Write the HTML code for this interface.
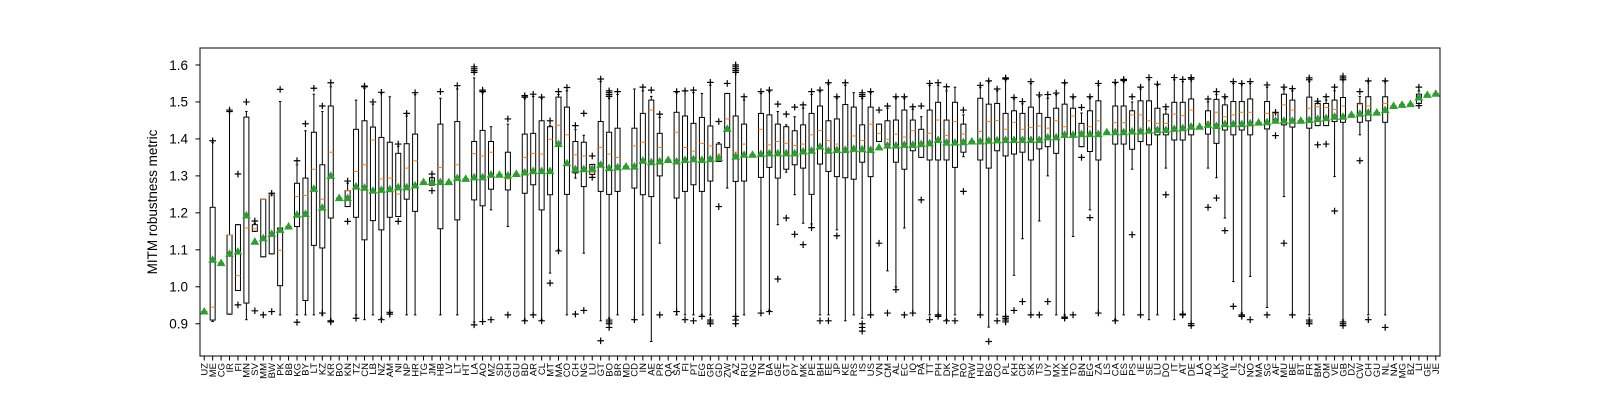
<!DOCTYPE html>
<html><head><meta charset="utf-8"><style>
html,body{margin:0;padding:0;background:#fff;}
svg{display:block;font-family:"Liberation Sans","DejaVu Sans",sans-serif;}
</style></head><body>
<svg id="chart" width="1600" height="400" viewBox="0 0 1600 400" xmlns="http://www.w3.org/2000/svg">
<rect x="0" y="0" width="1600" height="400" fill="#fff"/>
<g id="yaxis"></g>
<g id="marks"></g>
<g id="xaxis"></g>
<rect x="200" y="48" width="1240" height="308" fill="none" stroke="#000" stroke-width="1"/>
<text x="157" y="202" transform="rotate(-90 157 202)" text-anchor="middle" font-size="13.5" fill="#000">MITM robustness metric</text>
</svg>
<script>
const categories = ["UZ","ME","CG","IR","FI","MN","SV","MM","BW","PK","BB","KG","BY","LT","KZ","KR","BO","KN","TZ","CN","LB","NZ","AM","NI","NP","HR","TG","JM","HB","LV","LT","HT","LA","AO","MZ","SD","GH","GU","BD","AR","CL","MT","MA","CO","CH","NG","LU","GT","BO","BR","MD","CD","IN","AE","PR","QA","SA","FI","PT","EG","GR","GD","ZW","AZ","RU","NG","TN","BA","GE","GT","PY","MK","PE","BH","EE","JP","KE","RS","IS","US","VN","CM","AL","EC","IQ","PA","TT","PH","DK","TW","RO","RW","HU","BG","CO","PL","KH","CR","SK","TS","UY","MX","HK","TO","BN","EG","ZA","LS","CA","ES","PS","IE","SE","LU","DO","IT","AT","DE","LA","AO","LK","KW","IL","CZ","NO","MA","SG","AF","MU","BE","BT","FR","BM","OM","VE","GB","DZ","CW","CH","GU","NL","NA","MG","BZ","LI","GE","JE"];
const whisLo = [.933,.906,1.064,.926,.99,.911,1.15,1.081,1.089,.924,1.163,.924,.924,.924,.924,.91,1.24,1.217,.924,.911,.924,.915,.929,1.19,.924,.924,1.283,1.275,.924,1.283,.924,1.292,.905,.906,1.208,1.303,1.163,1.305,.91,.924,.91,1.037,1.1,.924,1.294,1.091,1.304,.908,.915,.924,1.325,.911,.924,.852,1.118,1.343,.924,.924,.924,.924,.924,1.339,1.267,.915,.924,1.357,.929,.936,1.168,1.31,1.249,1.172,1.17,.924,.924,1.154,.908,.924,.915,.924,1.393,1.043,1.0,1.159,.929,1.35,.924,.924,.911,.924,1.352,1.393,.924,.891,.924,.911,1.031,1.13,.924,1.178,1.3,.924,.924,1.136,1.379,1.208,.929,1.418,.911,.924,1.318,.924,.911,.924,1.321,.911,.924,.9,1.433,1.321,1.295,1.186,1.014,.929,1.028,1.444,.944,1.447,1.244,.924,1.449,.924,1.436,1.436,1.298,.91,1.465,1.411,.924,1.471,.924,1.489,1.492,1.494,1.496,1.519,1.522];
const q1 = [.933,.91,1.064,.926,.99,.956,1.15,1.081,1.089,1.003,1.163,1.163,.963,1.112,1.105,1.186,1.24,1.217,1.188,1.127,1.179,1.154,1.188,1.19,1.237,1.204,1.283,1.275,1.157,1.283,1.181,1.292,1.235,1.219,1.264,1.303,1.262,1.305,1.253,1.276,1.208,1.249,1.384,1.25,1.308,1.271,1.304,1.258,1.25,1.258,1.325,1.267,1.249,1.244,1.3,1.343,1.24,1.258,1.276,1.258,1.286,1.339,1.377,1.285,1.286,1.357,1.296,1.323,1.294,1.318,1.33,1.321,1.25,1.332,1.312,1.298,1.295,1.291,1.337,1.298,1.393,1.384,1.337,1.318,1.368,1.35,1.343,1.343,1.343,1.323,1.364,1.393,1.343,1.321,1.368,1.354,1.359,1.364,1.343,1.373,1.379,1.361,1.411,1.411,1.379,1.366,1.343,1.418,1.386,1.386,1.372,1.393,1.384,1.411,1.411,1.397,1.397,1.411,1.433,1.413,1.388,1.424,1.411,1.424,1.411,1.444,1.427,1.447,1.438,1.432,1.449,1.429,1.436,1.436,1.447,1.445,1.465,1.445,1.449,1.471,1.445,1.489,1.492,1.494,1.496,1.519,1.522];
const medians = [.933,.945,1.064,1.14,1.03,1.159,1.157,1.237,1.249,1.099,1.163,1.244,1.247,1.318,1.237,1.364,1.24,1.26,1.312,1.33,1.397,1.292,1.294,1.251,1.321,1.341,1.283,1.285,1.323,1.283,1.33,1.292,1.36,1.354,1.364,1.303,1.292,1.305,1.35,1.361,1.359,1.399,1.437,1.411,1.357,1.354,1.31,1.377,1.359,1.35,1.325,1.381,1.391,1.478,1.377,1.343,1.418,1.377,1.367,1.388,1.381,1.359,1.454,1.364,1.386,1.357,1.426,1.384,1.393,1.388,1.382,1.386,1.411,1.423,1.396,1.386,1.376,1.408,1.396,1.44,1.415,1.399,1.413,1.405,1.422,1.386,1.415,1.451,1.409,1.447,1.413,1.393,1.42,1.447,1.45,1.426,1.445,1.426,1.431,1.435,1.429,1.449,1.433,1.462,1.41,1.433,1.449,1.418,1.444,1.444,1.465,1.465,1.449,1.442,1.442,1.467,1.463,1.478,1.433,1.447,1.472,1.46,1.465,1.472,1.472,1.444,1.469,1.469,1.492,1.478,1.449,1.483,1.487,1.485,1.48,1.489,1.465,1.494,1.489,1.471,1.496,1.489,1.492,1.494,1.505,1.519,1.522];
const q3 = [.933,1.215,1.064,1.14,1.168,1.459,1.168,1.237,1.249,1.159,1.163,1.28,1.294,1.418,1.33,1.489,1.24,1.26,1.426,1.449,1.432,1.404,1.391,1.361,1.387,1.413,1.283,1.295,1.44,1.283,1.447,1.292,1.393,1.423,1.393,1.303,1.364,1.305,1.413,1.415,1.449,1.433,1.513,1.486,1.393,1.391,1.331,1.447,1.418,1.429,1.325,1.429,1.469,1.505,1.415,1.343,1.472,1.462,1.442,1.458,1.435,1.386,1.523,1.462,1.44,1.357,1.469,1.465,1.44,1.433,1.422,1.438,1.469,1.489,1.449,1.454,1.493,1.486,1.438,1.486,1.44,1.449,1.451,1.478,1.451,1.426,1.478,1.499,1.451,1.499,1.44,1.393,1.51,1.494,1.496,1.469,1.476,1.469,1.486,1.469,1.458,1.483,1.494,1.483,1.442,1.476,1.503,1.418,1.489,1.489,1.476,1.503,1.503,1.483,1.467,1.499,1.499,1.508,1.433,1.476,1.507,1.492,1.501,1.501,1.508,1.444,1.501,1.47,1.521,1.505,1.449,1.513,1.496,1.496,1.505,1.512,1.465,1.496,1.514,1.471,1.514,1.489,1.492,1.494,1.521,1.519,1.522];
const whisHi = [.933,1.39,1.064,1.474,1.168,1.474,1.172,1.237,1.249,1.501,1.163,1.33,1.422,1.521,1.474,1.541,1.24,1.28,1.505,1.537,1.494,1.524,1.514,1.38,1.462,1.52,1.283,1.295,1.51,1.283,1.535,1.292,1.565,1.525,1.433,1.303,1.44,1.305,1.51,1.515,1.51,1.437,1.52,1.53,1.425,1.41,1.331,1.555,1.51,1.52,1.325,1.535,1.53,1.515,1.458,1.343,1.525,1.53,1.525,1.523,1.545,1.39,1.523,1.59,1.505,1.357,1.523,1.528,1.474,1.438,1.46,1.483,1.52,1.528,1.548,1.51,1.545,1.525,1.51,1.525,1.44,1.483,1.51,1.51,1.48,1.46,1.545,1.545,1.53,1.54,1.465,1.393,1.54,1.555,1.53,1.56,1.508,1.495,1.55,1.515,1.51,1.52,1.55,1.51,1.47,1.51,1.545,1.418,1.55,1.555,1.5,1.535,1.56,1.545,1.48,1.56,1.555,1.56,1.433,1.5,1.52,1.51,1.55,1.548,1.55,1.444,1.54,1.47,1.535,1.53,1.449,1.555,1.5,1.505,1.53,1.56,1.465,1.515,1.555,1.471,1.555,1.489,1.492,1.494,1.53,1.519,1.522];
const means = [.933,1.073,1.064,1.089,1.095,1.193,1.122,1.131,1.143,1.154,1.163,1.195,1.197,1.265,1.214,1.3,1.24,1.24,1.271,1.268,1.26,1.262,1.264,1.269,1.269,1.274,1.283,1.283,1.283,1.283,1.294,1.292,1.296,1.296,1.303,1.303,1.301,1.305,1.309,1.313,1.313,1.313,1.386,1.334,1.318,1.318,1.319,1.33,1.321,1.323,1.325,1.325,1.341,1.337,1.339,1.343,1.339,1.343,1.345,1.343,1.345,1.348,1.427,1.352,1.357,1.357,1.359,1.361,1.361,1.361,1.361,1.366,1.368,1.379,1.368,1.37,1.37,1.373,1.372,1.37,1.377,1.382,1.382,1.384,1.384,1.386,1.388,1.397,1.39,1.39,1.391,1.393,1.393,1.395,1.396,1.397,1.397,1.397,1.397,1.397,1.404,1.404,1.411,1.411,1.413,1.413,1.413,1.418,1.418,1.418,1.42,1.42,1.422,1.424,1.424,1.427,1.429,1.433,1.433,1.438,1.435,1.44,1.44,1.44,1.442,1.444,1.445,1.449,1.449,1.449,1.449,1.451,1.454,1.456,1.46,1.46,1.465,1.468,1.471,1.471,1.478,1.489,1.492,1.494,1.512,1.519,1.522];
const fliers = [[],[1.395],[],[1.478,1.474],[1.305,.951],[1.5],[1.178,.935],[.924],[1.253,.933],[1.534],[],[1.341,.904],[1.441],[1.537],[1.489,.929],[1.552,.908,.905],[],[1.286,1.177],[.915],[1.541,1.543],[1.5],[1.526,.911],[.926,.931],[1.386,1.177],[1.469],[1.525],[],[1.305,1.26],[1.528],[],[1.544],[],[1.595,1.59,1.585,1.58,.897],[1.532,1.528,.906],[.911],[],[1.454,.924],[],[.908,1.513,1.517],[.924,1.521],[.908,1.513],[1.01,1.449],[1.097,1.528],[1.539],[.926,1.436],[.936,1.469],[1.354,1.296],[.854,1.562],[.91,.905,.9,.89,1.53,1.525,1.52,1.515],[1.528],[],[.911],[1.54],[1.532],[.924,1.467],[],[.933,1.528],[.911,1.53],[.908,1.532],[.92],[.91,.905,.9,1.553],[1.217,1.447],[1.55],[.92,.91,.9,1.6,1.595,1.59,1.585,1.58],[1.514],[],[.929,1.528],[.933,1.532],[1.021,1.494],[1.186,1.467],[1.142,1.486],[1.114,1.492],[1.16,1.528],[.908,1.532],[.908,1.552],[1.138,1.514],[1.552],[],[.9,.89,.88,1.52,1.525,1.515],[.924,1.528],[1.118,1.478],[.929,1.489],[.992,1.514],[.924,1.514],[.929,1.487],[1.235,1.489],[.911,1.55],[.924,.92,1.552],[.908,1.541],[.908],[1.258,1.478],[],[.924,1.545],[.852,1.557],[.908,1.535],[.92,.915,.91,.905,1.562,1.565],[.936,1.512],[.96,1.501],[.924,1.555],[.924,1.519],[.96,1.52],[1.524],[.915,.918,1.552],[.924,1.514],[1.35,1.485],[1.187,1.514],[.929,1.55],[],[.908,1.553],[1.561,1.558],[1.141,1.514],[.924,1.54],[1.566],[1.548],[1.249,1.487],[1.566],[.926,.924,1.561],[.9,.895,1.566,1.562],[],[1.215,1.508],[1.24,1.528],[1.152,1.514],[.947,1.555],[.924,.92,1.55],[.911,1.555],[],[.924,1.546],[1.472,1.409],[1.118,1.54],[.924,1.536],[],[.91,.905,.9,1.56,1.565],[1.384,1.502],[1.386,1.514],[1.205,1.54],[.905,.9,.895,1.565,1.56,1.57],[],[1.341,1.528],[.911,1.557],[],[.89,1.557],[],[],[],[1.54,1.49],[],[]];
const yTicks = [0.9,1.0,1.1,1.2,1.3,1.4,1.5,1.6];
const yTickLabels = ["0.9","1.0","1.1","1.2","1.3","1.4","1.5","1.6"];

const NS = "http://www.w3.org/2000/svg";
const L = 200, R = 1440, T = 48, B = 356;
const yMin = 0.8128, yMax = 1.6459;
function yScale(v){ return B - (v - yMin) / (yMax - yMin) * (B - T); }
function xScale(i){ return L + (i + 0.5) * (R - L) / categories.length; }
function mk(tag, attrs, parent){
  const el = document.createElementNS(NS, tag);
  for (const k in attrs) el.setAttribute(k, attrs[k]);
  parent.appendChild(el);
  return el;
}
const yax = document.getElementById('yaxis');
yTicks.forEach((t, k) => {
  const y = yScale(t);
  const tk = mk('line', {x1: L - 4.5, x2: L, y1: y, y2: y, stroke: '#000', 'stroke-width': 1}, yax);
  
  
  const tx = mk('text', {x: L - 12, y: y + 4.8, 'text-anchor': 'end', 'font-size': 13.5, fill: '#000'}, yax);
  tx.textContent = yTickLabels[k];
  
  
});
const xax = document.getElementById('xaxis');
const marks = document.getElementById('marks');
const bw = 5, cw = 2.5;
categories.forEach((c, i) => {
  const x = xScale(i);
  const tk = mk('line', {x1: x, x2: x, y1: B, y2: B + 4.5, stroke: '#000', 'stroke-width': 1}, xax);
  
  
  const tx = mk('text', {x: 0, y: 0, transform: 'translate(' + (x + 3.3) + ',' + (B + 7) + ') rotate(-90)', 'text-anchor': 'end', 'font-size': 9.5, fill: '#000'}, xax);
  tx.textContent = c;
  
  

  const g = mk('g', {}, marks);
  
  
  const yq1 = yScale(q1[i]), yq3 = yScale(q3[i]);
  mk('line', {x1: x, x2: x, y1: yScale(whisLo[i]), y2: yq1, stroke: '#000', 'stroke-width': 1}, g);
  mk('line', {x1: x, x2: x, y1: yq3, y2: yScale(whisHi[i]), stroke: '#000', 'stroke-width': 1}, g);
  mk('line', {x1: x - cw/2, x2: x + cw/2, y1: yScale(whisLo[i]), y2: yScale(whisLo[i]), stroke: '#000', 'stroke-width': 1}, g);
  mk('line', {x1: x - cw/2, x2: x + cw/2, y1: yScale(whisHi[i]), y2: yScale(whisHi[i]), stroke: '#000', 'stroke-width': 1}, g);
  mk('rect', {x: x - bw/2, y: yq3, width: bw, height: Math.max(0.01, yq1 - yq3), fill: 'none', stroke: '#000', 'stroke-width': 1}, g);
  const md = mk('line', {x1: x - bw/2, x2: x + bw/2, y1: yScale(medians[i]), y2: yScale(medians[i]), stroke: '#ff7f0e', 'stroke-width': 1}, g);
  
  
  fliers[i].forEach(f => {
    const fy = yScale(f);
    const p = mk('path', {d: 'M' + (x - 3.3) + ' ' + fy + 'H' + (x + 3.3) + 'M' + x + ' ' + (fy - 3.3) + 'V' + (fy + 3.3), stroke: '#000', 'stroke-width': 1.2, fill: 'none'}, g);
    
    
  });
  const my = yScale(means[i]);
  const tri = mk('path', {d: 'M' + x + ' ' + (my - 4.6) + 'L' + (x + 4.4) + ' ' + (my + 3) + 'L' + (x - 4.4) + ' ' + (my + 3) + 'Z', fill: '#2ca02c'}, g);
  
  
});
</script>
</body></html>
